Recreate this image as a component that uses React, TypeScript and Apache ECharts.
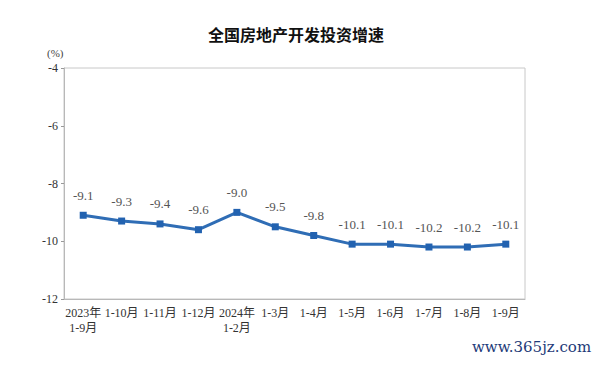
import React, { useEffect, useRef } from "react";
import * as echarts from "echarts";

const categories = ["2023年\n1-9月", "1-10月", "1-11月", "1-12月", "2024年\n1-2月", "1-3月", "1-4月", "1-5月", "1-6月", "1-7月", "1-8月", "1-9月"];
const values = [-9.1, -9.3, -9.4, -9.6, -9.0, -9.5, -9.8, -10.1, -10.1, -10.2, -10.2, -10.1];
const yTicks = { min: -12, max: -4, interval: 2 };

const serif = "'Liberation Serif', 'DejaVu Serif', 'Noto Sans CJK SC', serif";

export default function App() {
  const ref = useRef<HTMLDivElement>(null);
  useEffect(() => {
    const chart = echarts.init(ref.current!, undefined, { renderer: "svg" });
    chart.setOption({
      animation: false,
      backgroundColor: "#ffffff",
      title: {
        text: "全国房地产开发投资增速",
        left: "center",
        top: 21,
        textStyle: { fontFamily: "'Noto Sans CJK SC', sans-serif", fontSize: 16, fontWeight: "bold", color: "#111" },
      },
      graphic: [
        { type: "text", left: 47, top: 47, style: { text: "(%)", fontFamily: serif, fontSize: 11, fill: "#444" } },
        { type: "text", left: 472, top: 339, style: { text: "www.365jz.com", fontFamily: "'DejaVu Serif', serif", fontSize: 15, fill: "#1e3a78" } },
      ],
      grid: { left: 64, right: 67, top: 68, bottom: 66, show: true, borderColor: "#c8c8c8", borderWidth: 1 },
      xAxis: {
        type: "category",
        data: categories,
        boundaryGap: true,
        axisLine: { lineStyle: { color: "#b8b8b8" } },
        axisTick: { inside: true, length: 5, lineStyle: { color: "#999" } },
        axisLabel: { interval: 0, fontFamily: serif, fontSize: 12, color: "#333", margin: 6, lineHeight: 15 },
      },
      yAxis: {
        type: "value",
        min: yTicks.min,
        max: yTicks.max,
        interval: yTicks.interval,
        splitLine: { show: false },
        axisLine: { show: true, lineStyle: { color: "#b8b8b8" } },
        axisTick: { show: true, length: 3, lineStyle: { color: "#999" } },
        axisLabel: { fontFamily: serif, fontSize: 12, color: "#333", margin: 6 },
      },
      series: [
        {
          type: "line",
          data: values,
          symbol: "rect",
          symbolSize: 7,
          lineStyle: { color: "#2f6db5", width: 3 },
          itemStyle: { color: "#2262b0" },
          label: {
            show: true,
            position: "top",
            distance: 10,
            fontFamily: serif,
            fontSize: 13,
            color: "#555",
            formatter: (p: any) => p.value.toFixed(1),
          },
        },
      ],
    });
    return () => chart.dispose();
  }, []);
  return <div ref={ref} style={{ width: 592, height: 365, position: "absolute", left: 0, top: 0 }} />;
}
